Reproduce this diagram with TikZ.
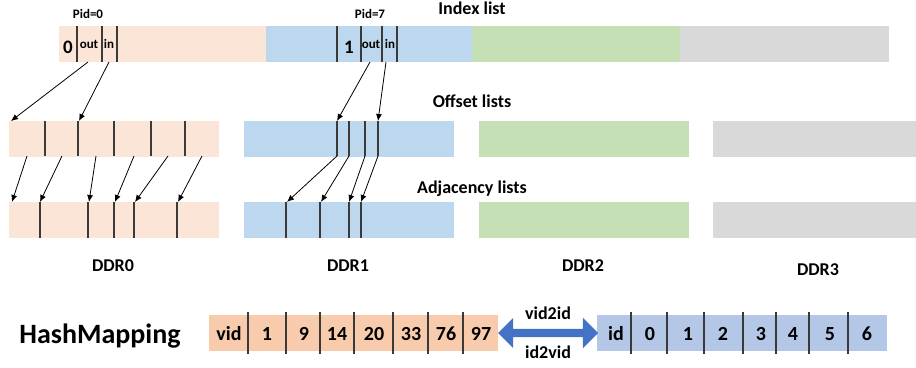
\documentclass[tikz,border=0pt]{standalone}
\usepackage{fontspec}
\setmainfont{Carlito}
\usetikzlibrary{arrows,arrows.meta,shapes.arrows}
\definecolor{ddrA}{HTML}{FBE5D6}
\definecolor{ddrB}{HTML}{BDD7EE}
\definecolor{ddrC}{HTML}{C5E0B4}
\definecolor{ddrD}{HTML}{D9D9D9}
\definecolor{vidfill}{HTML}{F8CBAD}
\definecolor{idfill}{HTML}{B4C7E7}
\definecolor{mapblue}{HTML}{4472C4}
\definecolor{divgray}{HTML}{3A3A3A}

\begin{document}
\begin{tikzpicture}[x=1pt,y=-1pt,
  bar/.style={rectangle,inner sep=0,minimum height=36pt,minimum width=210pt},
  sep/.style={draw=divgray,line width=1.2pt},
  ptr/.style={-{Latex[length=7pt,width=6pt]},line width=0.8pt},
  lbl/.style={anchor=base,font=\bfseries\fontsize{18}{20}\selectfont},
  small/.style={anchor=base,font=\bfseries\fontsize{13}{15}\selectfont},
  cell/.style={anchor=base,font=\bfseries\fontsize{20}{22}\selectfont}]
\useasboundingbox (0,0) rectangle (916,367);

% index list
\node[bar,fill=ddrA,minimum width=207pt] (I0) at (162.5,44){};
\node[bar,fill=ddrB,minimum width=206pt] (I1) at (369,44){};
\node[bar,fill=ddrC,minimum width=208pt] (I2) at (576,44){};
\node[bar,fill=ddrD,minimum width=209pt] (I3) at (784.5,44){};
\foreach \x in {77,102,117,337,361,382,397}
  \draw[sep] (\x,26) -- (\x,62);
\node[lbl] (idxlbl) at (472,14){Index list};
\node[small] (pid0) at (88,18){Pid=0};
\node[small] (pid7) at (370,18){Pid=7};
\node[cell,font=\bfseries\fontsize{19}{21}\selectfont] (p0) at (68,53){0};
\node[small] (out0) at (89,48){out};
\node[small] (in0) at (109,48){in};
\node[cell,font=\bfseries\fontsize{19}{21}\selectfont] (p1) at (349,53){1};
\node[small] (out1) at (371,48){out};
\node[small] (in1) at (390,48){in};

% offset lists
\foreach \n/\x/\c in {0/114/ddrA,1/349/ddrB,2/583.5/ddrC,3/818/ddrD}
  \node[bar,fill=\c] (O\n) at (\x,138.5){};
\foreach \x in {45,78,114,151,185,337,349,365,378}
  \draw[sep] (\x,121) -- (\x,156);
\node[lbl] (offlbl) at (472,107){Offset lists};

% adjacency lists
\foreach \n/\x/\c in {0/114/ddrA,1/349/ddrB,2/583.5/ddrC,3/818/ddrD}
  \node[bar,fill=\c] (A\n) at (\x,220){};
\foreach \x in {40,88,114,134,177,286,320,349,361}
  \draw[sep] (\x,202) -- (\x,238);
\node[lbl] (adjlbl) at (472,193){Adjacency lists};

% pointers
\foreach \n/\x in {1/88,2/109,3/370,4/386}
  \coordinate (ip\n) at (\x,62);
\foreach \n/\x in {1/11,2/79,3/337,4/378}
  \coordinate (oq\n) at (\x,121);
\foreach \n/\x in {1/27,2/62,3/96,4/134,5/168,6/202,7/337,8/349,9/365,10/378}
  \coordinate (op\n) at (\x,156);
\foreach \n/\x in {1/12,2/40,3/89,4/115,5/135,6/178,7/287,8/321,9/349,10/361}
  \coordinate (aq\n) at (\x,202);
\foreach \n in {1,...,4}
  \draw[ptr] (ip\n) -- (oq\n);
\foreach \n in {1,...,10}
  \draw[ptr] (op\n) -- (aq\n);

% DDR names
\node[lbl] (ddr0) at (113,271){DDR0};
\node[lbl] (ddr1) at (348,271){DDR1};
\node[lbl] (ddr2) at (583,271){DDR2};
\node[lbl] (ddr3) at (818,275){DDR3};

% hash mapping
\node[anchor=base,font=\bfseries\fontsize{28}{30}\selectfont] (hm) at (100,343){HashMapping};
\node[rectangle,inner sep=0,fill=vidfill,minimum width=289pt,minimum height=36pt] (vid) at (353.5,333){};
\node[rectangle,inner sep=0,fill=idfill,minimum width=290pt,minimum height=36pt] (id) at (742,333){};
\foreach \x in {248,286,320,354,393,428,463,631,667,704,743,776,809,848}
  \draw[sep] (\x,312) -- (\x,354);
\foreach \n/\t/\x in {0/vid/229,1/1/267,2/9/304,3/14/337,4/20/374,5/33/411,6/76/446,7/97/481}
  \node[cell] (v\n) at (\x,340){\t};
\foreach \n/\t/\x in {0/id/616,1/0/650,2/1/688,3/2/723,4/3/761,5/4/793,6/5/830,7/6/867}
  \node[cell] (d\n) at (\x,340){\t};
\node[double arrow,fill=mapblue,inner sep=4pt,minimum height=100pt,
  double arrow head extend=11pt] (map) at (548,333){};
\node[lbl] (v2i) at (548,319){vid2id};
\node[lbl] (i2v) at (548,358){id2vid};
\end{tikzpicture}
\end{document}
